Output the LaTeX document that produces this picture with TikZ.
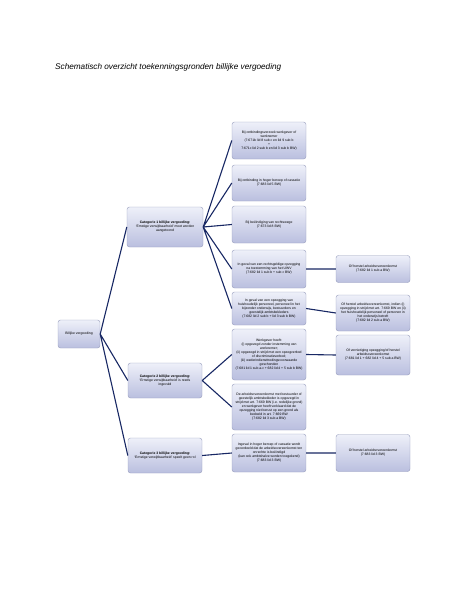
\documentclass[tikz,border=0pt]{standalone}
\usepackage{fontspec}
\setmainfont{Liberation Sans}
\usepackage{tikz}
\usetikzlibrary{calc,positioning,shapes}

\definecolor{boxtop}{RGB}{238,240,249}
\definecolor{boxbot}{RGB}{186,191,223}
\definecolor{boxline}{RGB}{150,156,188}
\definecolor{linkcol}{RGB}{24,40,100}

\begin{document}
\begin{tikzpicture}[x=1pt,y=-1pt]
\tikzstyle{box}=[draw=boxline, rounded corners=2.5pt, top color=boxtop, bottom color=boxbot,
  align=flush center, inner xsep=1.5pt, inner ysep=1pt, minimum width=74pt, text width=67pt,
  font=\fontsize{3.4}{4}\selectfont]
\tikzstyle{link}=[draw=linkcol, line width=1.1pt]

\useasboundingbox (0,0) rectangle (474,613);
\node[anchor=base west, inner sep=0pt, font=\fontsize{8.2}{9}\itshape] (T) at (55,69) {Schematisch overzicht toekenningsgronden billijke vergoeding};

\node[box, minimum width=42pt, text width=39pt, minimum height=28pt] (BV) at (79,334) {Billijke vergoeding};

\node[box, minimum width=76pt, text width=72pt, minimum height=40pt] (C1) at (165,227) {\textbf{Categorie 1 billijke vergoeding:}\\ `Ernstige verwijtbaarheid' moet worden aangetoond};
\node[box, text width=71pt, minimum height=35pt] (C2) at (165,380.5) {\textbf{Categorie 2 billijke vergoeding:}\\ `Ernstige verwijtbaarheid' is reeds\\ ingevuld};
\node[box, text width=71pt, minimum height=35pt] (C3) at (165,455.5) {\textbf{Categorie 3 billijke vergoeding:}\\ `Ernstige verwijtbaarheid' speelt geen rol};

\node[box, minimum height=37pt] (E) at (269,140.5) {Bij ontbindingsverzoek werkgever of werknemer\\ (7:671b lid 8 sub c en lid 9 sub b\\ +\\ 7:671c lid 2 sub b en lid 3 sub b BW)};
\node[box, minimum height=36pt] (F) at (269,183) {Bij ontbinding in hoger beroep of cassatie\\ (7:683 lid 5 BW)};
\node[box, minimum height=37pt] (G) at (269,224.5) {Bij beëindiging van rechtswege\\ (7:673 lid 8 BW)};
\node[box, minimum height=38pt] (H) at (269,269) {In geval van een rechtsgeldige opzegging na toestemming van het UWV\\ (7:682 lid 1 sub b + sub c BW)};
\node[box, minimum height=33pt] (I) at (269,308.5) {In geval van een opzegging van huishoudelijk personeel, personeel in het bijzonder onderwijs, bestuurders en geestelijk ambtsbekleders\\ (7:682 lid 2 sub b + lid 3 sub b BW)};
\node[box, minimum height=51pt] (J) at (269,354.5) {Werkgever heeft:\\ (i) opgezegd zonder instemming van werknemer;\\ (ii) opgezegd in strijd met een opzegverbod of discriminatieverbod;\\ (iii) wederindiensttredingsvoorwaarde geschonden\\ (7:681 lid 1 sub a-c + 682 lid 4 + 5 sub b BW)};
\node[box, minimum height=46pt] (K) at (269,407) {De arbeidsovereenkomst met bestuurder of geestelijk ambtsbekleder is opgezegd in strijd met art. 7:669 BW (i.e. redelijke grond) en werkgever heeft verklaard dat de opzegging niet berust op een grond als bedoeld in art. 7:669 BW\\ (7:682 lid 3 sub a BW)};
\node[box, minimum height=38pt] (L) at (269,453) {Ingeval in hoger beroep of cassatie wordt geoordeeld dat de arbeidsovereenkomst ten onrechte is beëindigd\\ (kan ook ambtshalve worden toegekend)\\ (7:683 lid 3 BW)};

\node[box, minimum height=27pt] (M) at (373,269) {Of herstel arbeidsovereenkomst\\ (7:682 lid 1 sub a BW)};
\node[box, minimum height=36pt] (N) at (373,313) {Of herstel arbeidsovereenkomst, indien (i) opzegging in strijd met art. 7:669 BW en (ii) het huishoudelijk personeel of personen in het onderwijs betreft\\ (7:682 lid 2 sub a BW)};
\node[box, minimum height=40pt] (O) at (373,355) {Of vernietiging opzegging/of herstel arbeidsovereenkomst\\ (7:681 lid 1 + 682 lid 4 + 5 sub a BW)};
\node[box, minimum height=37pt] (P) at (373,453) {Of herstel arbeidsovereenkomst\\ (7:683 lid 3 BW)};

\draw[link] (BV.east) -- (C1.west) (BV.east) -- (C2.west) (BV.east) -- (C3.west);
\draw[link] (C1.east) -- (E.west) (C1.east) -- (F.west) (C1.east) -- (G.west) (C1.east) -- (H.west) (C1.east) -- (I.west);
\draw[link] (C2.east) -- (J.west) (C2.east) -- (K.west);
\draw[link] (C3.east) -- (L.west);
\draw[link] (H.east) -- (M.west) (I.east) -- (N.west) (J.east) -- (O.west) (L.east) -- (P.west);
\end{tikzpicture}
\end{document}
